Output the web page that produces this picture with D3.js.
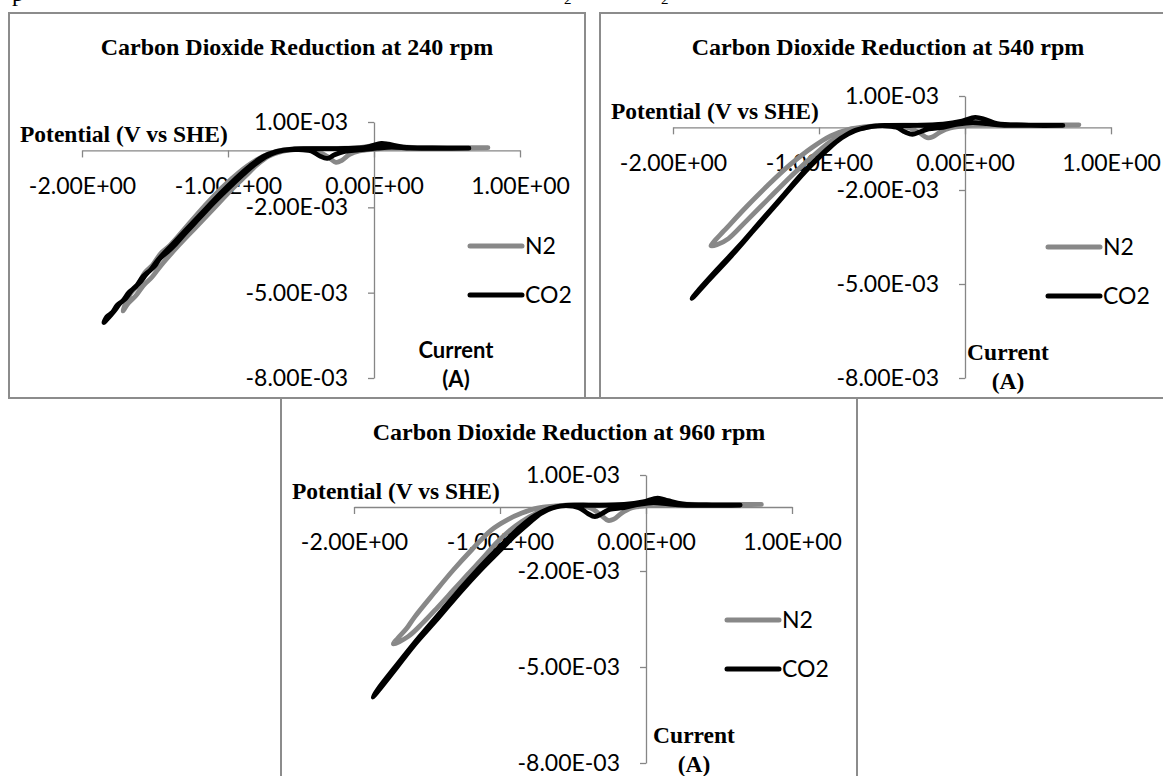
<!DOCTYPE html>
<html>
<head>
<meta charset="utf-8">
<script src="https://cdn.jsdelivr.net/npm/d3@7"></script>
<style>
  body { margin: 0; background: #fff; }
  svg { display: block; }
</style>
</head>
<body>
<div id="wrapper"></div>
<script>
// ---- data ----
const xTicks = [-2, -1, 0, 1];
const xTickLabels = ["-2.00E+00", "-1.00E+00", "0.00E+00", "1.00E+00"];
const yTicks = [1e-3, -2e-3, -5e-3, -8e-3];
const yTickLabels = ["1.00E-03", "-2.00E-03", "-5.00E-03", "-8.00E-03"];
const seriesNames = ["N2", "CO2"];
const rpms = [240, 540, 960];

// [potential V, current A]
const n2_240 = [
  [0.78, 0.1e-3], [0.55, 0.08e-3], [0.3, 0.08e-3], [0.1, 0.08e-3], [0.0, 0.04e-3], [-0.1, -0.02e-3],
  [-0.17, -0.15e-3], [-0.22, -0.35e-3], [-0.26, -0.42e-3], [-0.31, -0.25e-3], [-0.38, -0.05e-3],
  [-0.5, 0.04e-3], [-0.62, 0.02e-3], [-0.72, -0.12e-3], [-0.82, -0.38e-3], [-0.92, -0.75e-3],
  [-1.04, -1.3e-3], [-1.16, -1.95e-3], [-1.28, -2.65e-3], [-1.4, -3.35e-3], [-1.46, -3.62e-3],
  [-1.52, -4.05e-3], [-1.57, -4.3e-3], [-1.62, -4.75e-3], [-1.67, -5.05e-3], [-1.72, -5.64e-3],
  [-1.68, -5.35e-3], [-1.63, -5.1e-3], [-1.58, -4.75e-3], [-1.52, -4.45e-3], [-1.46, -4.05e-3],
  [-1.34, -3.35e-3], [-1.22, -2.7e-3], [-1.1, -2.05e-3], [-0.98, -1.4e-3], [-0.88, -0.9e-3],
  [-0.8, -0.5e-3], [-0.72, -0.2e-3], [-0.63, -0.03e-3], [-0.5, 0.06e-3], [-0.3, 0.07e-3],
  [-0.1, 0.1e-3], [0.02, 0.18e-3], [0.1, 0.15e-3], [0.3, 0.1e-3], [0.55, 0.1e-3], [0.78, 0.1e-3]
];
const co2_240 = [
  [0.65, 0.08e-3], [0.45, 0.07e-3], [0.25, 0.08e-3], [0.12, 0.12e-3], [0.02, 0.08e-3], [-0.1, 0.02e-3],
  [-0.2, -0.03e-3], [-0.27, -0.15e-3], [-0.32, -0.28e-3], [-0.37, -0.2e-3], [-0.43, -0.02e-3],
  [-0.52, 0.03e-3], [-0.62, 0.0], [-0.7, -0.12e-3], [-0.78, -0.35e-3], [-0.87, -0.72e-3],
  [-0.97, -1.2e-3], [-1.09, -1.8e-3], [-1.2, -2.4e-3], [-1.3, -2.95e-3], [-1.36, -3.3e-3],
  [-1.4, -3.5e-3], [-1.47, -3.82e-3], [-1.5, -4.05e-3], [-1.56, -4.35e-3], [-1.6, -4.62e-3],
  [-1.66, -4.92e-3], [-1.7, -5.2e-3], [-1.74, -5.38e-3], [-1.78, -5.65e-3], [-1.85, -6.05e-3],
  [-1.83, -5.85e-3], [-1.79, -5.68e-3], [-1.76, -5.45e-3], [-1.72, -5.28e-3], [-1.68, -5.0e-3],
  [-1.63, -4.78e-3], [-1.58, -4.42e-3], [-1.53, -4.2e-3], [-1.48, -3.85e-3], [-1.38, -3.3e-3],
  [-1.27, -2.7e-3], [-1.16, -2.1e-3], [-1.05, -1.5e-3], [-0.95, -1.0e-3], [-0.85, -0.55e-3],
  [-0.76, -0.22e-3], [-0.67, -0.04e-3], [-0.56, 0.05e-3], [-0.4, 0.06e-3], [-0.2, 0.07e-3],
  [-0.05, 0.12e-3], [0.05, 0.25e-3], [0.1, 0.22e-3], [0.2, 0.12e-3], [0.4, 0.09e-3], [0.65, 0.08e-3]
];
const n2_540 = [
  [0.78, 0.08e-3], [0.55, 0.07e-3], [0.3, 0.07e-3], [0.12, 0.08e-3], [0.0, 0.05e-3], [-0.1, -0.02e-3],
  [-0.17, -0.15e-3], [-0.22, -0.3e-3], [-0.26, -0.33e-3], [-0.31, -0.18e-3], [-0.38, -0.02e-3],
  [-0.5, 0.05e-3], [-0.62, 0.04e-3], [-0.72, -0.05e-3], [-0.82, -0.2e-3], [-0.92, -0.45e-3],
  [-1.05, -0.95e-3], [-1.2, -1.6e-3], [-1.35, -2.3e-3], [-1.5, -3.0e-3], [-1.62, -3.55e-3],
  [-1.7, -3.75e-3], [-1.74, -3.78e-3],
  [-1.72, -3.65e-3], [-1.65, -3.3e-3], [-1.5, -2.55e-3], [-1.35, -1.85e-3], [-1.2, -1.2e-3],
  [-1.05, -0.65e-3], [-0.92, -0.27e-3], [-0.8, -0.07e-3], [-0.68, 0.02e-3], [-0.55, 0.06e-3],
  [-0.35, 0.07e-3], [-0.15, 0.08e-3], [0.0, 0.14e-3], [0.08, 0.16e-3], [0.2, 0.1e-3],
  [0.45, 0.08e-3], [0.78, 0.08e-3]
];
const co2_540 = [
  [0.67, 0.06e-3], [0.45, 0.06e-3], [0.25, 0.07e-3], [0.15, 0.12e-3], [0.05, 0.15e-3], [-0.05, 0.1e-3],
  [-0.15, 0.0], [-0.25, -0.05e-3], [-0.31, -0.15e-3], [-0.36, -0.22e-3], [-0.41, -0.15e-3],
  [-0.47, 0.0], [-0.55, 0.05e-3], [-0.65, 0.02e-3], [-0.75, -0.1e-3], [-0.85, -0.35e-3],
  [-0.95, -0.75e-3], [-1.05, -1.2e-3], [-1.15, -1.7e-3], [-1.3, -2.5e-3], [-1.45, -3.3e-3],
  [-1.6, -4.1e-3], [-1.75, -4.85e-3], [-1.87, -5.46e-3],
  [-1.84, -5.28e-3], [-1.7, -4.55e-3], [-1.55, -3.8e-3], [-1.4, -3.0e-3], [-1.25, -2.2e-3],
  [-1.1, -1.4e-3], [-0.98, -0.85e-3], [-0.87, -0.42e-3], [-0.77, -0.13e-3], [-0.67, 0.0],
  [-0.55, 0.06e-3], [-0.35, 0.06e-3], [-0.15, 0.1e-3], [-0.02, 0.2e-3], [0.07, 0.32e-3],
  [0.14, 0.25e-3], [0.22, 0.12e-3], [0.4, 0.07e-3], [0.67, 0.06e-3]
];
const n2_960 = [
  [0.79, 0.08e-3], [0.55, 0.06e-3], [0.3, 0.06e-3], [0.1, 0.07e-3], [0.0, 0.04e-3], [-0.1, -0.03e-3],
  [-0.17, -0.2e-3], [-0.22, -0.38e-3], [-0.26, -0.42e-3], [-0.31, -0.25e-3], [-0.38, -0.03e-3],
  [-0.5, 0.05e-3], [-0.62, 0.03e-3], [-0.75, -0.19e-3], [-0.85, -0.45e-3], [-0.93, -0.72e-3],
  [-1.02, -1.1e-3], [-1.11, -1.56e-3], [-1.22, -2.1e-3], [-1.32, -2.6e-3], [-1.43, -3.15e-3],
  [-1.53, -3.63e-3], [-1.63, -4.05e-3], [-1.73, -4.28e-3],
  [-1.7, -4.1e-3], [-1.64, -3.8e-3], [-1.585, -3.44e-3], [-1.45, -2.68e-3], [-1.32, -1.97e-3],
  [-1.19, -1.32e-3], [-1.06, -0.72e-3], [-0.95, -0.4e-3], [-0.85, -0.19e-3], [-0.76, -0.05e-3],
  [-0.69, 0.0], [-0.55, 0.06e-3], [-0.35, 0.07e-3], [-0.15, 0.07e-3], [-0.02, 0.12e-3],
  [0.06, 0.15e-3], [0.2, 0.1e-3], [0.45, 0.08e-3], [0.79, 0.08e-3]
];
const co2_960 = [
  [0.645, 0.06e-3], [0.45, 0.05e-3], [0.25, 0.06e-3], [0.15, 0.1e-3], [0.05, 0.14e-3], [-0.05, 0.08e-3],
  [-0.15, -0.02e-3], [-0.25, -0.08e-3], [-0.3, -0.2e-3], [-0.35, -0.3e-3], [-0.4, -0.2e-3],
  [-0.46, -0.02e-3], [-0.55, 0.04e-3], [-0.64, -0.03e-3], [-0.72, -0.2e-3], [-0.8, -0.5e-3],
  [-0.9, -0.9e-3], [-1.01, -1.4e-3], [-1.14, -2.0e-3], [-1.27, -2.65e-3], [-1.42, -3.45e-3],
  [-1.585, -4.3e-3], [-1.73, -5.15e-3], [-1.87, -5.94e-3],
  [-1.84, -5.72e-3], [-1.7, -4.9e-3], [-1.55, -4.05e-3], [-1.4, -3.25e-3], [-1.25, -2.45e-3],
  [-1.1, -1.7e-3], [-0.97, -1.1e-3], [-0.86, -0.62e-3], [-0.76, -0.27e-3], [-0.66, -0.05e-3],
  [-0.55, 0.05e-3], [-0.35, 0.05e-3], [-0.15, 0.08e-3], [-0.02, 0.16e-3], [0.08, 0.28e-3],
  [0.15, 0.2e-3], [0.25, 0.1e-3], [0.45, 0.06e-3], [0.645, 0.06e-3]
];

// ---- layout ----
const colors = {N2: "#888888", CO2: "#000000"};
const serif = "'Liberation Serif', 'Times New Roman', serif";
const sans = "Lato, 'Liberation Sans', sans-serif";

const charts = [
  {left: 9,   top: 13,  rpm: rpms[0], n2: n2_240, co2: co2_240, yTop: 109, legendX: 461, legendY: 233, curX: 447, curY: 345, curFont: sans},
  {left: 600, top: 13,  rpm: rpms[1], n2: n2_540, co2: co2_540, yTop: 83,  legendX: 448, legendY: 234, curX: 408, curY: 347, curFont: serif},
  {left: 281, top: 398, rpm: rpms[2], n2: n2_960, co2: co2_960, yTop: 77,  legendX: 446, legendY: 222, curX: 413, curY: 345, curFont: serif},
];

let dimensions = {
  width: 1163,
  height: 776,
  chartWidth: 576,
  chartHeight: 385,
};

const wrapper = d3.select("#wrapper").append("svg")
  .attr("width", dimensions.width)
  .attr("height", dimensions.height);

wrapper.append("rect").attr("width", dimensions.width).attr("height", dimensions.height).attr("fill", "#fff");

// cut-off line of document text at the very top (only its lowest strokes show)
wrapper.append("text").attr("x", 12).attr("y", 0.5).text("p")
  .style("font-family", serif).style("font-size", "24px");
[564, 661].forEach(x => {
  wrapper.append("text").attr("x", x).attr("y", 4).text("2")
    .style("font-family", serif).style("font-size", "15px");
});

function drawChart(c) {
  const g = wrapper.append("g").attr("transform", `translate(${c.left},${c.top})`);

  g.append("rect")
    .attr("width", dimensions.chartWidth)
    .attr("height", dimensions.chartHeight)
    .attr("fill", "#fff")
    .attr("stroke", "#8c8c8c")
    .attr("stroke-width", 2);

  const xScale = d3.scaleLinear().domain([-2, 1]).range([73, 511]);
  const yScale = d3.scaleLinear().domain([-8e-3, 1e-3]).range([365, c.yTop]);

  g.append("text")
    .attr("x", dimensions.chartWidth / 2)
    .attr("y", 42)
    .attr("text-anchor", "middle")
    .style("font-family", serif).style("font-weight", "bold").style("font-size", "24px")
    .text(`Carbon Dioxide Reduction at ${c.rpm} rpm`);

  const xAxisGenerator = d3.axisBottom(xScale)
    .tickValues(xTicks)
    .tickFormat((d, i) => xTickLabels[i])
    .tickSize(7).tickSizeOuter(0).tickPadding(20);
  const yAxisGenerator = d3.axisLeft(yScale)
    .tickValues(yTicks)
    .tickFormat((d, i) => yTickLabels[i])
    .tickSize(6).tickSizeOuter(0).tickPadding(20);

  const xAxis = g.append("g")
    .attr("transform", `translate(0,${yScale(0)})`)
    .call(xAxisGenerator);
  const yAxis = g.append("g")
    .attr("transform", `translate(${xScale(0)},0)`)
    .call(yAxisGenerator);

  [xAxis, yAxis].forEach(a => {
    a.attr("font-family", null).attr("font-size", null);
    a.selectAll("path, line").attr("stroke", "#868686").attr("stroke-width", 1.3);
    a.selectAll("text").attr("fill", "#000")
      .style("font-family", sans).style("font-size", "23px");
  });

  g.append("text")
    .attr("x", 11)
    .attr("y", yScale(0) - 8)
    .style("font-family", serif).style("font-weight", "bold").style("font-size", "23.5px")
    .text("Potential (V vs SHE)");

  const lineGenerator = d3.line()
    .x(d => xScale(d[0]))
    .y(d => yScale(d[1]))
    .curve(d3.curveCatmullRom.alpha(0.5));

  [[c.n2, "N2"], [c.co2, "CO2"]].forEach(([data, name]) => {
    g.append("path")
      .datum(data)
      .attr("d", lineGenerator)
      .attr("fill", "none")
      .attr("stroke", colors[name])
      .attr("stroke-width", 4.8)
      .attr("stroke-linejoin", "round")
      .attr("stroke-linecap", "round");
  });

  const legend = g.append("g").attr("transform", `translate(${c.legendX},${c.legendY})`);
  seriesNames.forEach((name, i) => {
    legend.append("line")
      .attr("x1", 0).attr("x2", 52)
      .attr("y1", i * 49).attr("y2", i * 49)
      .attr("stroke", colors[name]).attr("stroke-width", 5)
      .attr("stroke-linecap", "round");
    legend.append("text")
      .attr("x", 55).attr("y", i * 49)
      .attr("dy", "0.35em")
      .style("font-family", sans).style("font-size", "23px")
      .text(name);
  });

  const cur = g.append("text")
    .attr("text-anchor", "middle")
    .style("font-family", c.curFont).style("font-weight", "bold")
    .style("font-size", c.curFont === sans ? "22px" : "23.5px");
  cur.append("tspan").attr("x", c.curX).attr("y", c.curY).text("Current");
  cur.append("tspan").attr("x", c.curX).attr("y", c.curY + 29).text("(A)");
}

charts.forEach(drawChart);
</script>
</body>
</html>
